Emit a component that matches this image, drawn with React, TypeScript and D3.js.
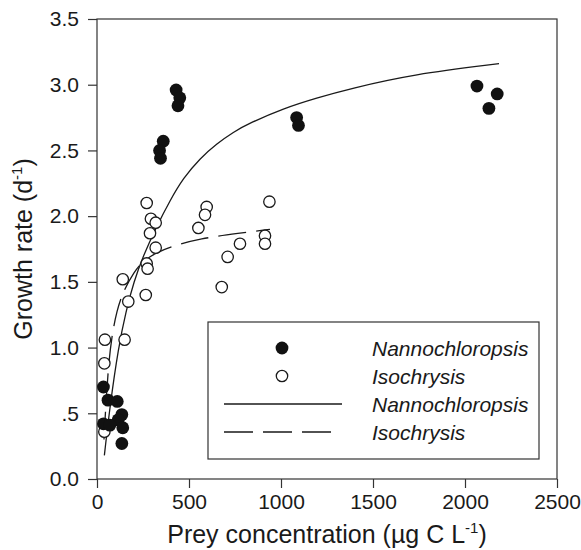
import React, { useEffect, useRef } from 'react'
import * as d3 from 'd3'

// filled circles
const nannoPts: [number, number][] = [
  [35, 0.70], [60, 0.60], [110, 0.59], [135, 0.49], [115, 0.45], [35, 0.42],
  [70, 0.41], [140, 0.39], [135, 0.27],
  [430, 2.96], [450, 2.90], [440, 2.84], [360, 2.57], [340, 2.50], [345, 2.44],
  [1085, 2.75], [1095, 2.69], [2065, 2.99], [2175, 2.93], [2130, 2.82]
]

// open circles
const isoPts: [number, number][] = [
  [43, 1.06], [150, 1.06], [40, 0.88], [40, 0.36], [140, 1.52], [170, 1.35],
  [265, 1.40], [270, 1.64], [275, 1.60], [270, 2.10], [293, 1.98], [319, 1.95],
  [288, 1.87], [319, 1.76], [596, 2.07], [587, 2.01], [551, 1.91], [937, 2.11],
  [913, 1.85], [913, 1.79], [777, 1.79], [710, 1.69], [678, 1.46]
]

// fitted curves
const nannoFit: [number, number][] = [
  [40, 0.18], [70, 0.55], [116, 1.00], [158, 1.28], [200, 1.50], [252, 1.70],
  [320, 1.91], [397, 2.12], [469, 2.29], [560, 2.44], [650, 2.55], [741, 2.64],
  [832, 2.71], [1013, 2.82], [1194, 2.90], [1375, 2.97], [1719, 3.08], [2185, 3.16]
]
const isoFit: [number, number][] = [
  [38, 0.30], [50, 0.62], [65, 0.90], [80, 1.08], [107, 1.28], [143, 1.43],
  [203, 1.58], [252, 1.66], [320, 1.72], [406, 1.77], [560, 1.83], [773, 1.87],
  [940, 1.90]
]

const xTicks = [0, 500, 1000, 1500, 2000, 2500]
const yTicks = [0, 0.5, 1.0, 1.5, 2.0, 2.5, 3.0, 3.5]
const yTickLabels = ['0.0', '.5', '1.0', '1.5', '2.0', '2.5', '3.0', '3.5']
const legendNames = ['Nannochloropsis', 'Isochrysis', 'Nannochloropsis', 'Isochrysis']

export default function App() {
  const node = useRef<SVGSVGElement | null>(null)

  useEffect(() => {
    const width = 581, height = 550
    const margin = { top: 19, right: 24, bottom: 71, left: 97 }
    const font = 'Liberation Sans, Arial, Helvetica, sans-serif'
    const ink = '#1a1a1a'

    const x = d3.scaleLinear([0, 2500], [margin.left, width - margin.right])
    const y = d3.scaleLinear([0, 3.5], [height - margin.bottom, margin.top])

    const svg = d3.select(node.current)
    svg.selectAll('*').remove()
    svg.attr('width', width).attr('height', height)

    // frame
    svg.append('rect')
      .attr('x', x(0)).attr('y', y(3.5))
      .attr('width', x(2500) - x(0)).attr('height', y(0) - y(3.5))
      .attr('fill', 'none').attr('stroke', '#333').attr('stroke-width', 1.2)

    const xAxis = svg.append('g')
      .attr('transform', `translate(0,${y(0)})`)
      .call(d3.axisBottom(x).tickValues(xTicks).tickSize(9).tickPadding(6).tickFormat(d3.format('d')))
    const yAxis = svg.append('g')
      .attr('transform', `translate(${x(0)},0)`)
      .call(d3.axisLeft(y).tickValues(yTicks).tickSize(9).tickPadding(9)
        .tickFormat((d, i) => yTickLabels[i]))
    for (const g of [xAxis, yAxis]) {
      g.select('.domain').remove()
      g.selectAll('line').attr('stroke', '#333').attr('stroke-width', 1.2)
      g.selectAll('text').attr('fill', ink).style('font-family', font).style('font-size', '21px')
    }

    // basis spline smooths out small reading errors in the traced curves
    const line = d3.line<[number, number]>()
      .x(d => x(d[0])).y(d => y(d[1]))
      .curve(d3.curveBasis)

    svg.append('path').attr('d', line(nannoFit))
      .attr('fill', 'none').attr('stroke', ink).attr('stroke-width', 1.3)
    svg.append('path').attr('d', line(isoFit))
      .attr('fill', 'none').attr('stroke', ink).attr('stroke-width', 1.3)
      .attr('stroke-dasharray', '28,10')

    svg.append('g').selectAll('circle')
      .data(isoPts).join('circle')
      .attr('cx', d => x(d[0])).attr('cy', d => y(d[1])).attr('r', 5.7)
      .attr('fill', 'white').attr('stroke', ink).attr('stroke-width', 1.3)
    svg.append('g').selectAll('circle')
      .data(nannoPts).join('circle')
      .attr('cx', d => x(d[0])).attr('cy', d => y(d[1])).attr('r', 6.4)
      .attr('fill', '#111')

    // legend
    const lg = svg.append('g')
    lg.append('rect').attr('x', 208).attr('y', 322).attr('width', 331).attr('height', 137)
      .attr('fill', 'white').attr('stroke', '#333').attr('stroke-width', 1.2)
    const rows = [348, 376, 404, 432]
    lg.append('circle').attr('cx', 282).attr('cy', rows[0]).attr('r', 6.4).attr('fill', '#111')
    lg.append('circle').attr('cx', 282).attr('cy', rows[1]).attr('r', 5.7)
      .attr('fill', 'white').attr('stroke', ink).attr('stroke-width', 1.3)
    lg.append('line').attr('x1', 224).attr('x2', 342).attr('y1', rows[2]).attr('y2', rows[2])
      .attr('stroke', ink).attr('stroke-width', 1.3)
    lg.append('line').attr('x1', 224).attr('x2', 331).attr('y1', rows[3]).attr('y2', rows[3])
      .attr('stroke', ink).attr('stroke-width', 1.3).attr('stroke-dasharray', '29,10')
    lg.selectAll('text.name').data(legendNames).join('text')
      .attr('class', 'name')
      .attr('x', 372).attr('y', (d, i) => rows[i] + 7.5)
      .attr('fill', ink).style('font-family', font).style('font-size', '21px')
      .style('font-style', 'italic')
      .text(d => d)

    // axis titles
    const xt = svg.append('text')
      .attr('x', (x(0) + x(2500)) / 2).attr('y', 543)
      .attr('text-anchor', 'middle').attr('fill', ink)
      .style('font-family', font).style('font-size', '25px')
    xt.append('tspan').text('Prey concentration (µg C L')
    xt.append('tspan').attr('dy', -10).style('font-size', '15px').text('-1')
    xt.append('tspan').attr('dy', 10).text(')')

    const yt = svg.append('text')
      .attr('transform', `translate(32,${249}) rotate(-90)`)
      .attr('text-anchor', 'middle').attr('fill', ink)
      .style('font-family', font).style('font-size', '25px')
    yt.append('tspan').text('Growth rate (d')
    yt.append('tspan').attr('dy', -10).style('font-size', '15px').text('-1')
    yt.append('tspan').attr('dy', 10).text(')')
  }, [])

  return (
    <div>
      <svg ref={node} style={{ position: 'absolute', left: 0, top: 0, background: 'white' }} />
    </div>
  )
}
